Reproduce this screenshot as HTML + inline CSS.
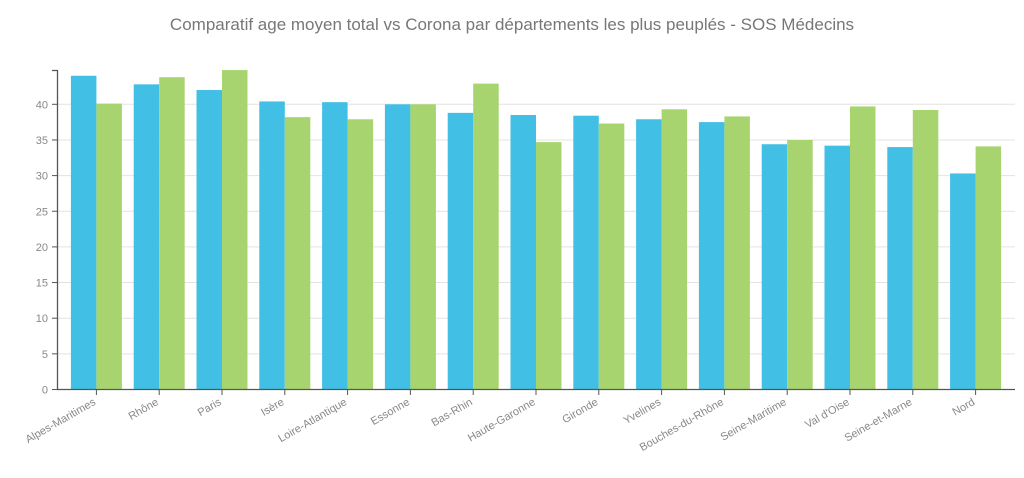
<!DOCTYPE html>
<html><head><meta charset="utf-8"><style>
body{margin:0;background:#fff;width:1024px;height:473px;overflow:hidden;font-family:"Liberation Sans",sans-serif}
</style></head><body>
<svg width="1024" height="473" id="c">
<text x="512" y="30" text-anchor="middle" font-size="17" fill="#777">Comparatif age moyen  total vs Corona  par départements les plus peuplés - SOS Médecins</text>
</svg>
<script>
const categories=["Alpes-Maritimes","Rhône","Paris","Isère","Loire-Atlantique","Essonne","Bas-Rhin","Haute-Garonne","Gironde","Yvelines","Bouches-du-Rhône","Seine-Maritime","Val d'Oise","Seine-et-Marne","Nord"];
const totalValues=[44.0,42.8,42.0,40.4,40.3,40.0,38.8,38.5,38.4,37.9,37.5,34.4,34.2,34.0,30.3];
const coronaValues=[40.1,43.8,44.8,38.2,37.9,40.0,42.9,34.7,37.3,39.3,38.3,35.0,39.7,39.2,34.1];
const yTicks=[0,5,10,15,20,25,30,35,40];
const svg=document.getElementById('c'),NS='http://www.w3.org/2000/svg';
const x0=65,band=62.8,yBase=389.5,pxPer=7.13;
const y=v=>yBase-v*pxPer;
function mk(t,a,p){const e=document.createElementNS(NS,t);for(const k in a)e.setAttribute(k,a[k]);(p||svg).appendChild(e);return e;}
yTicks.forEach(t=>{
 const g=mk('line',{x1:57,x2:1015,y1:y(t),y2:y(t),stroke:'#e3e3e3','stroke-width':1});
 
 
 const tk=mk('line',{x1:52,x2:57,y1:y(t),y2:y(t),stroke:'#555'});
 
 
 const l=mk('text',{x:48,y:y(t)+4,'text-anchor':'end','font-size':11,fill:'#888'});
 l.textContent=t;
 
 
});
categories.forEach((c,i)=>{
 const cx=x0+band*(i+0.5);
 const b1=mk('rect',{x:cx-25.5,y:y(totalValues[i]),width:25.5,height:totalValues[i]*pxPer,fill:'#41bfe5'});
 
 
 const b2=mk('rect',{x:cx,y:y(coronaValues[i]),width:25.5,height:coronaValues[i]*pxPer,fill:'#a8d46f'});
 
 
 const tk=mk('line',{x1:cx,x2:cx,y1:389.5,y2:395,stroke:'#555'});
 
 
 const l=mk('text',{x:cx,y:404,'text-anchor':'end','font-size':11,fill:'#888',transform:`rotate(-30 ${cx} 404)`});
 l.textContent=c;
 
 
});
const ax=mk('path',{d:'M52 70.5H57.5V389.5H1015',stroke:'#555',fill:'none','stroke-width':1.3});


</script>
</body></html>
